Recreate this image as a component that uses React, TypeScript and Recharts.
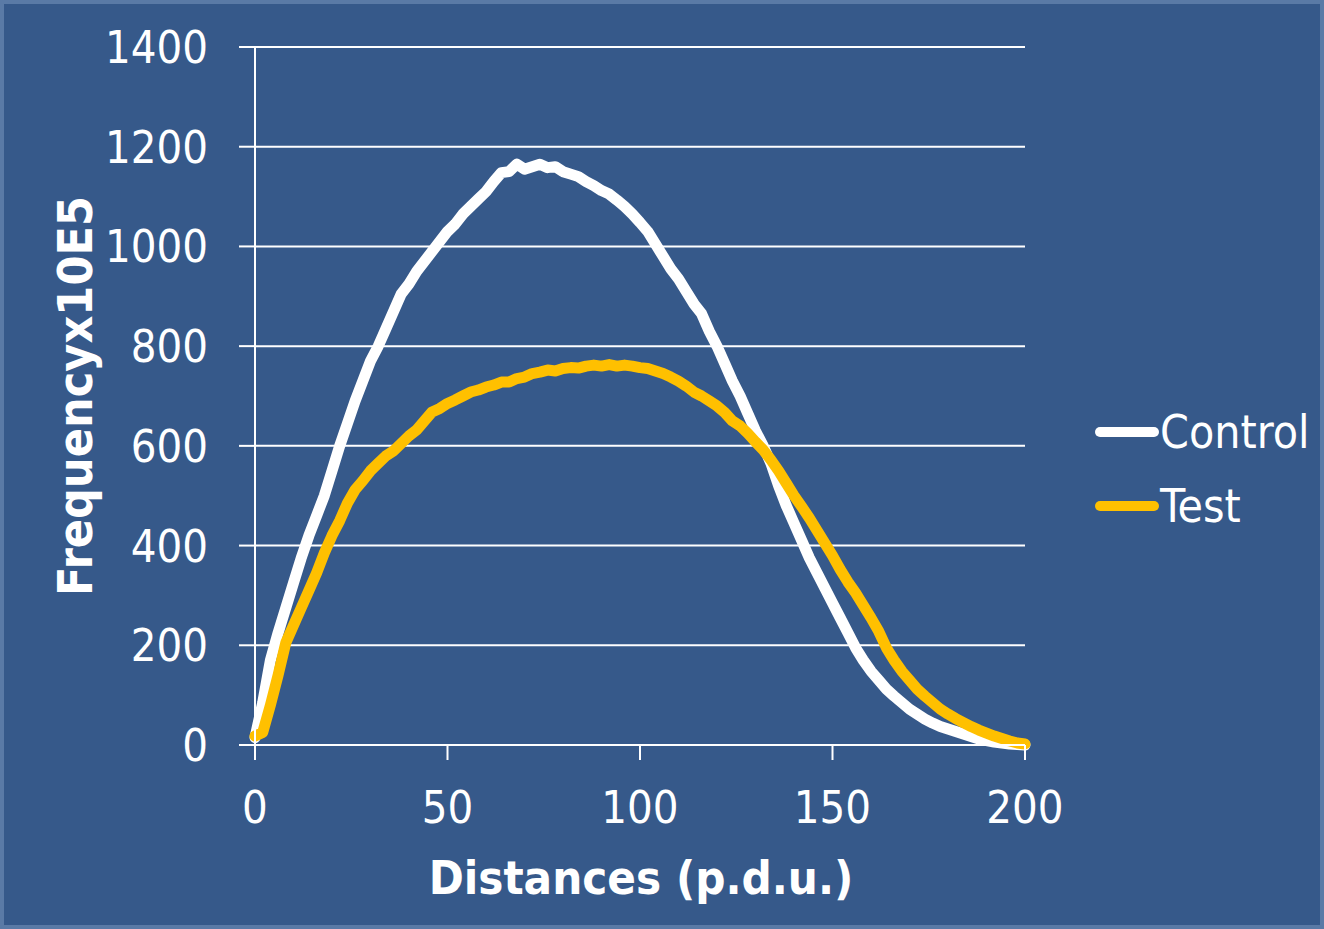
import React from 'react';
import { LineChart, Line, XAxis, YAxis, CartesianGrid, Legend } from 'recharts';

// distance (p.d.u.) sampled every 2 units
const distances: number[] = [
  0, 2, 4, 6, 8, 10, 12, 14, 16, 18, 20, 22, 24, 26, 28, 30, 32, 34, 36, 38,
  40, 42, 44, 46, 48, 50, 52, 54, 56, 58, 60, 62, 64, 66, 68, 70, 72, 74, 76, 78,
  80, 82, 84, 86, 88, 90, 92, 94, 96, 98, 100, 102, 104, 106, 108, 110, 112, 114, 116, 118,
  120, 122, 124, 126, 128, 130, 132, 134, 136, 138, 140, 142, 144, 146, 148, 150, 152, 154, 156, 158,
  160, 162, 164, 166, 168, 170, 172, 174, 176, 178, 180, 182, 184, 186, 188, 190, 192, 194, 196, 198,
  200,
];

const controlFreq: number[] = [
  15, 85, 170, 225, 275, 325, 375, 420, 460, 500, 550, 600, 645, 690, 730, 770, 800, 835, 870, 905,
  925, 950, 970, 990, 1010, 1030, 1045, 1065, 1080, 1095, 1110, 1130, 1148, 1150, 1165, 1155, 1160, 1165, 1158, 1160,
  1150, 1145, 1140, 1130, 1122, 1112, 1105, 1093, 1080, 1065, 1048, 1030, 1005, 980, 955, 935, 910, 885, 865, 830,
  800, 765, 730, 700, 665, 630, 600, 565, 520, 480, 445, 410, 375, 345, 315, 285, 255, 225, 195, 170,
  148, 130, 112, 98, 85, 72, 62, 52, 44, 37, 32, 27, 22, 17, 12, 9, 6, 4, 2, 1,
  0,
];

const testFreq: number[] = [
  18, 25, 80, 140, 205, 240, 275, 310, 345, 385, 420, 450, 485, 512, 530, 550, 565, 580, 590, 605,
  620, 632, 650, 668, 675, 685, 692, 700, 708, 712, 718, 722, 728, 728, 735, 738, 745, 748, 752, 750,
  755, 757, 756, 760, 762, 760, 763, 760, 762, 760, 757, 755, 750, 745, 738, 730, 720, 708, 700, 690,
  680, 667, 650, 640, 625, 608, 592, 572, 550, 525, 500, 478, 455, 430, 405, 380, 352, 327, 305, 280,
  255, 228, 195, 170, 148, 130, 112, 98, 85, 72, 62, 53, 45, 37, 30, 24, 18, 13, 8, 4,
  2,
];

const xTicks = [0, 50, 100, 150, 200];
const yTicks = [0, 200, 400, 600, 800, 1000, 1200, 1400];

const seriesInfo = [
  { key: 'control', name: 'Control', color: '#ffffff' },
  { key: 'test', name: 'Test', color: '#ffc000' },
];

const data = distances.map((d, i) => ({ d, control: controlFreq[i], test: testFreq[i] }));

const FONT = "'DejaVu Sans Condensed', 'DejaVu Sans', sans-serif";
const BG = '#36598a';

const renderLegend = () => (
  <div style={{ fontFamily: FONT, color: '#fff', fontSize: 46 }}>
    {seriesInfo.map((s) => (
      <div key={s.key} style={{ display: 'flex', alignItems: 'center', height: 74 }}>
        <svg width={66} height={14}>
          <line x1={6} y1={7} x2={60} y2={7} stroke={s.color} strokeWidth={10} strokeLinecap="round" />
        </svg>
        <span>{s.name}</span>
      </div>
    ))}
  </div>
);

const YTitle = () => (
  <text
    x={75}
    y={396}
    transform="rotate(-90 75 396)"
    textAnchor="middle"
    dominantBaseline="central"
    fill="#fff"
    fontFamily={FONT}
    fontWeight="bold"
    fontSize={48}
  >
    Frequencyx10E5
  </text>
);

const XTitle = () => (
  <text
    x={641}
    y={877}
    textAnchor="middle"
    dominantBaseline="central"
    fill="#fff"
    fontFamily={FONT}
    fontWeight="bold"
    fontSize={47}
  >
    Distances (p.d.u.)
  </text>
);

export default function App() {
  return (
    <div
      style={{
        position: 'absolute',
        left: 0,
        top: 0,
        width: 1324,
        height: 929,
        boxSizing: 'border-box',
        background: BG,
        border: '4px solid #5a7aa6',
        overflow: 'hidden',
      }}
    >
      <div style={{ position: 'absolute', left: -4, top: -4 }}>
        <LineChart width={1324} height={929} data={data} margin={{ top: 47, right: 299, bottom: 154, left: 0 }}>
          <CartesianGrid vertical={false} stroke="#ffffff" strokeWidth={2} />
          <XAxis
            dataKey="d"
            type="number"
            domain={[0, 200]}
            ticks={xTicks}
            height={30}
            stroke="#ffffff"
            strokeWidth={2}
            tickSize={15}
            tickMargin={31}
            tick={{ fill: '#ffffff', fontSize: 45, fontFamily: FONT }}
            label={{ content: () => <XTitle /> }}
          />
          <YAxis
            type="number"
            domain={[0, 1400]}
            ticks={yTicks}
            width={255}
            stroke="#ffffff"
            strokeWidth={2}
            tickSize={16}
            tickMargin={31}
            tick={{ fill: '#ffffff', fontSize: 45, fontFamily: FONT }}
            label={{ content: () => <YTitle /> }}
          />
          <Legend
            layout="vertical"
            align="center"
            verticalAlign="middle"
            content={renderLegend}
            wrapperStyle={{ left: 1094, top: 395, width: 230 }}
          />
          {seriesInfo.map((s) => (
            <Line
              key={s.key}
              dataKey={s.key}
              name={s.name}
              type="linear"
              stroke={s.color}
              strokeWidth={11}
              strokeLinejoin="round"
              strokeLinecap="round"
              dot={false}
              activeDot={false}
              isAnimationActive={false}
            />
          ))}
        </LineChart>
      </div>
    </div>
  );
}
